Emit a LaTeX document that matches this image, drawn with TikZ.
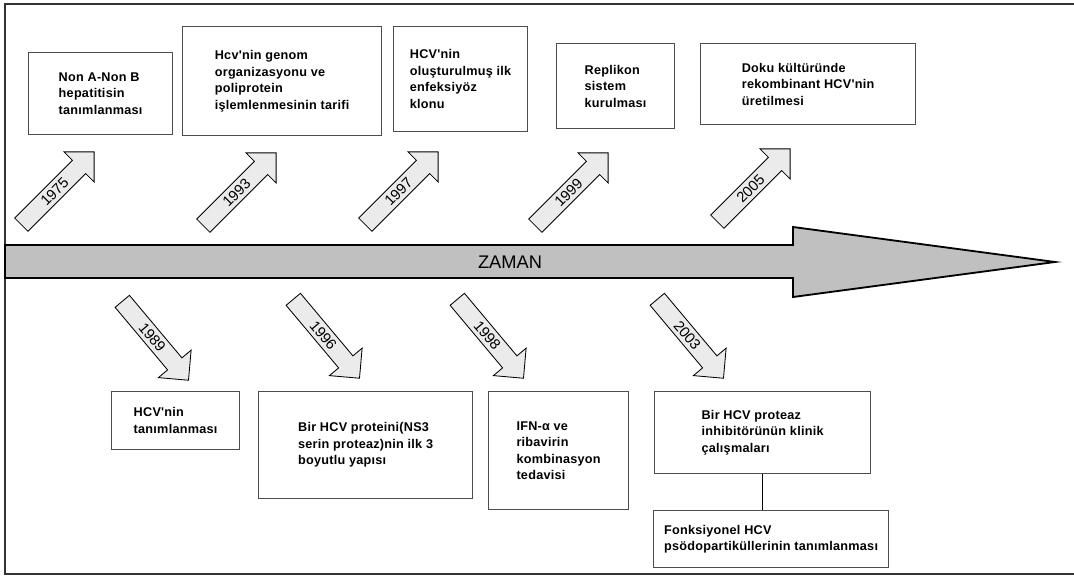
\documentclass[tikz,border=0pt]{standalone}
\usepackage{fontspec}
\setmainfont{Liberation Sans}
\newfontfamily\boxfont[LetterSpace=2]{Liberation Sans}
\usetikzlibrary{shapes.arrows}
\definecolor{timegray}{RGB}{192,192,192}
\definecolor{yeargray}{RGB}{235,235,235}
\tikzset{
  evbox/.style={draw=black!70, line width=0.8pt, align=left, inner sep=0pt,
    font=\boxfont\bfseries\fontsize{9}{11.7}\selectfont, anchor=north west},
  yeararrow/.style={single arrow, draw, fill=yeargray, line width=0.6pt,
    minimum height=2.575cm, single arrow head extend=0.3cm,
    inner xsep=1pt, inner ysep=2.6pt, text height=7.5pt, text depth=0pt,
    font=\fontsize{10.5}{12}\selectfont, anchor=tail},
}
\begin{document}
\begin{tikzpicture}[x=0.025cm,y=-0.025cm]
          \useasboundingbox (0,0) rectangle (1074,576);
          % frame
          \draw[black!80, line width=0.8pt] (1074,4) -- (5,4) -- (5,574) -- (1074,574);
          % time axis
          \draw[fill=timegray, line width=1.3pt] (5,245) -- (793,245) -- (793,227) -- (1055,262) -- (793,297) -- (793,278) -- (5,278) -- cycle;
          \node[font=\fontsize{13}{15}\selectfont] (zaman) at (510,262) {ZAMAN};
          % upper events
          \node[evbox, minimum width=3.6cm, minimum height=2.05cm] (b1975) at (28,52) {Non A-Non B\\hepatitisin\\tanımlanması};
          \node[evbox, minimum width=4.975cm, minimum height=2.725cm] (b1993) at (182,26) {Hcv'nin genom\\organizasyonu ve\\poliprotein\\işlemlenmesinin tarifi};
          \node[evbox, minimum width=3.35cm, minimum height=2.625cm] (b1997) at (393,26) {HCV'nin\\oluşturulmuş ilk\\enfeksiyöz\\klonu};
          \node[evbox, minimum width=2.95cm, minimum height=2.125cm] (b1999) at (556,43) {Replikon\\sistem\\kurulması};
          \node[evbox, minimum width=5.375cm, minimum height=2.025cm] (b2005) at (700,43) {Doku kültüründe\\rekombinant HCV'nin\\üretilmesi};
          % lower events
          \node[evbox, minimum width=3.2cm, minimum height=1.45cm] (b1989) at (111,391) {HCV'nin\\tanımlanması};
          \node[evbox, minimum width=5.35cm, minimum height=2.675cm] (b1996) at (258,391) {Bir HCV proteini(NS3\\serin proteaz)nin ilk 3\\boyutlu yapısı};
          \node[evbox, minimum width=3.5cm, minimum height=2.95cm] (b1998) at (488,391) {IFN-α ve\\ribavirin\\kombinasyon\\tedavisi};
          \node[evbox, minimum width=5.4cm, minimum height=2.05cm] (b2003) at (654,391) {Bir HCV proteaz\\inhibitörünün klinik\\çalışmaları};
          \node[evbox, minimum width=5.875cm, minimum height=1.425cm] (bfonk) at (653,510) {Fonksiyonel HCV\\psödopartiküllerinin tanımlanması};
          \draw[line width=0.6pt] (b2003.south) -- (b2003.south |- bfonk.north);
          % year arrows up
          \node[yeararrow, rotate=45] (a1975) at (21,225) {1975};
          \node[yeararrow, rotate=45] (a1993) at (203,226) {1993};
          \node[yeararrow, rotate=45] (a1997) at (365,225) {1997};
          \node[yeararrow, rotate=45] (a1999) at (535,226) {1999};
          \node[yeararrow, rotate=45] (a2005) at (717,222) {2005};
          % year arrows down
          \node[yeararrow, rotate=-50] (a1989) at (122,301) {1989};
          \node[yeararrow, rotate=-50] (a1996) at (293,299) {1996};
          \node[yeararrow, rotate=-50] (a1998) at (457,299) {1998};
          \node[yeararrow, rotate=-50] (a2003) at (657,299) {2003};
\end{tikzpicture}
\end{document}
